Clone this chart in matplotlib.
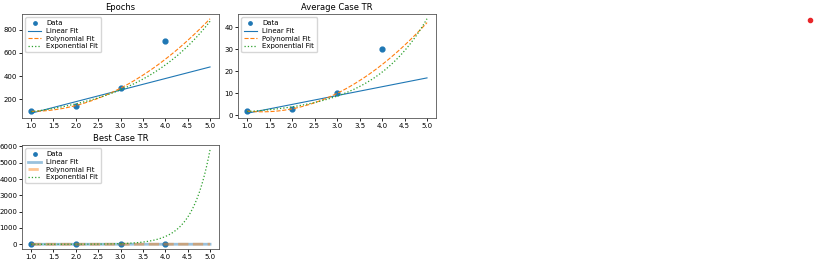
import numpy as np
import matplotlib
matplotlib.use('Agg')
import matplotlib.pyplot as plt
from matplotlib.lines import Line2D

# data
sizes = [1, 2, 3, 4]
epochs = [95, 145, 295, 700]
avg_tr = [2, 3, 10, 30]
best_tr = [1, 1, 2, 3]
titles = ['Epochs', 'Average Case TR', 'Best Case TR']
n_fit = 3  # fits use the first three points

# exponential fit of best case (a * exp(b * x))
best_exp_a = 0.0216
best_exp_b = 2.5

plt.rcParams['font.size'] = 5


def plot_fits(ax, x, y, title, faded=False, exp_params=None):
    x = np.array(x, dtype=float)
    y = np.array(y, dtype=float)
    xf, yf = x[:n_fit], y[:n_fit]
    xs = np.linspace(1, 5, 100)

    lin = np.poly1d(np.polyfit(xf, yf, 1))
    poly = np.poly1d(np.polyfit(xf, yf, 2))
    if exp_params is None:
        b, ln_a = np.polyfit(xf, np.log(yf), 1)
        a = np.exp(ln_a)
    else:
        a, b = exp_params

    ax.scatter(x, y, s=12, color='#1f77b4', label='Data')
    if faded:
        ax.plot(xs, lin(xs), '-', lw=2.0, alpha=0.45, color='#1f77b4', label='Linear Fit')
        ax.plot(xs, poly(xs), '--', lw=2.0, alpha=0.45, color='#ff7f0e', label='Polynomial Fit')
    else:
        ax.plot(xs, lin(xs), '-', lw=0.8, color='#1f77b4', label='Linear Fit')
        ax.plot(xs, poly(xs), '--', lw=0.8, color='#ff7f0e', label='Polynomial Fit')
    ax.plot(xs, a * np.exp(b * xs), ':', lw=0.9, color='#2ca02c', label='Exponential Fit')

    ax.set_title(title, fontsize=6, pad=3)
    ax.set_xticks(np.arange(1.0, 5.01, 0.5))
    ax.tick_params(labelsize=5, length=2, pad=1.5, width=0.6)
    for s in ax.spines.values():
        s.set_linewidth(0.6)
        s.set_color('#555555')
    ax.legend(loc='upper left', fontsize=5, handlelength=1.8, borderpad=0.4,
              labelspacing=0.25, framealpha=0.8, markerscale=0.7)


fig = plt.figure(figsize=(8.14, 2.64), dpi=100)
W, H = 814, 264
ax1 = fig.add_axes([22 / W, 1 - 118 / H, 197 / W, 104 / H])
ax2 = fig.add_axes([238 / W, 1 - 118 / H, 198 / W, 104 / H])
ax3 = fig.add_axes([22 / W, 1 - 249 / H, 197 / W, 104 / H])

plot_fits(ax1, sizes, epochs, titles[0])
plot_fits(ax2, sizes, avg_tr, titles[1])
plot_fits(ax3, sizes, best_tr, titles[2], faded=True,
          exp_params=(best_exp_a, best_exp_b))
ax3.set_yticks(np.arange(0, 6001, 1000))

fig.add_artist(Line2D([810 / W], [1 - 20 / H], marker='o', markersize=3,
                      color='#e8262a', transform=fig.transFigure))

plt.savefig('out.png', dpi=100)
plt.close()
